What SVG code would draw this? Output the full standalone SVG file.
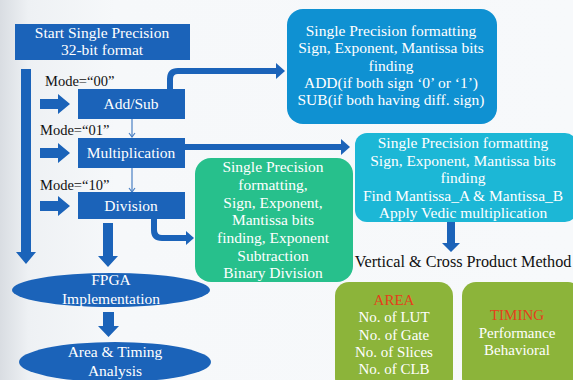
<svg xmlns="http://www.w3.org/2000/svg" width="573" height="380" viewBox="0 0 573 380">
<defs>
<linearGradient id="bg" x1="0" y1="0" x2="1" y2="0">
<stop offset="0" stop-color="#d9dde2"/>
<stop offset="0.05" stop-color="#eef1f4"/>
<stop offset="0.2" stop-color="#f6f8fa"/>
<stop offset="1" stop-color="#f7f9fb"/>
</linearGradient>
<style>
.t{font-family:"Liberation Serif","Times New Roman",serif;font-size:15.5px;text-anchor:middle;fill:#ffffff}
.s{font-size:15px}
.k{font-family:"Liberation Serif","Times New Roman",serif;font-size:14.5px;fill:#111111}
.r{fill:#e5401c}
.blk{fill:#1b63b9}
.conn{fill:none;stroke:#1b63b9;stroke-width:6}
.thin{fill:none;stroke:#4a80c4;stroke-width:1.2}
</style>
</defs>
<rect width="573" height="380" fill="url(#bg)"/>

<g id="connectors">
<path class="blk" d="M21,69 H31 V252 H36 L26,264 L16,252 H21 Z"/>
<path class="blk" d="M40,99 H58 V94 L70,104 L58,114 V109 H40 Z"/>
<path class="blk" d="M40,148 H58 V143 L70,153 L58,163 V158 H40 Z"/>
<path class="blk" d="M40,201 H58 V196 L70,206 L58,216 V211 H40 Z"/>
<line class="thin" x1="132" y1="119" x2="132" y2="137"/>
<path class="thin" d="M129,133 L132,137 L135,133"/>
<line class="thin" x1="132" y1="168" x2="132" y2="192"/>
<path class="thin" d="M129,188 L132,192 L135,188"/>
<path class="conn" d="M170,89 V79 Q170,71 178,71 H277"/>
<polygon class="blk" points="276,63 285,71 276,79"/>
<line class="conn" x1="185" y1="147" x2="342" y2="147"/>
<polygon class="blk" points="341,139 350,147 341,155"/>
<path class="conn" d="M154,218 V230 Q154,238 162,238 H187"/>
<polygon class="blk" points="186,231 194,238 186,245"/>
<path class="blk" d="M103,223 H113 V256 H118 L108,267 L98,256 H103 Z"/>
<path class="blk" d="M103,312 H114 V326 H119 L108.5,337 L98,326 H103 Z"/>
<path class="blk" d="M447,222 H455 V243 H460 L451,252 L442,243 H447 Z"/>
</g>

<g id="start">
<rect x="15" y="24" width="175" height="36" fill="#1b63b9"/>
<text class="t" x="102" y="38">Start Single Precision</text>
<text class="t" x="102" y="55">32-bit format</text>
</g>

<g id="labels">
<text class="k" x="45" y="86">Mode=“00”</text>
<text class="k" x="40" y="135">Mode=“01”</text>
<text class="k" x="40" y="190">Mode=“10”</text>
</g>

<g id="addsub">
<rect x="78" y="89" width="107" height="30" fill="#1b63b9"/>
<text class="t" x="131" y="109">Add/Sub</text>
</g>

<g id="mult">
<rect x="78" y="138" width="107" height="30" fill="#1b63b9"/>
<text class="t" x="131" y="158">Multiplication</text>
</g>

<g id="div">
<rect x="78" y="192" width="107" height="27" fill="#1b63b9"/>
<text class="t" x="131" y="211">Division</text>
</g>

<g id="addsub-detail">
<rect x="287" y="9" width="210" height="115" rx="16" fill="#0f91d2"/>
<text class="t" x="391" y="36">Single Precision formatting</text>
<text class="t" x="391" y="53">Sign, Exponent, Mantissa bits</text>
<text class="t" x="391" y="71">finding</text>
<text class="t" x="391" y="88">ADD(if both sign ‘0’ or ‘1’)</text>
<text class="t" x="391" y="105">SUB(if both having diff. sign)</text>
</g>

<g id="mult-detail">
<rect x="355" y="133" width="222" height="89" rx="12" fill="#1cb7d6"/>
<text class="t" x="463" y="148">Single Precision formatting</text>
<text class="t" x="463" y="166">Sign, Exponent, Mantissa bits</text>
<text class="t" x="463" y="183">finding</text>
<text class="t" x="463" y="201">Find Mantissa_A &amp; Mantissa_B</text>
<text class="t" x="463" y="218">Apply Vedic multiplication</text>
</g>

<g id="div-detail">
<rect x="195" y="158" width="158" height="124" rx="16" fill="#27c08c"/>
<text class="t" x="273" y="172">Single Precision</text>
<text class="t" x="273" y="190">formatting,</text>
<text class="t" x="273" y="208">Sign, Exponent,</text>
<text class="t" x="273" y="225">Mantissa bits</text>
<text class="t" x="273" y="243">finding, Exponent</text>
<text class="t" x="273" y="261">Subtraction</text>
<text class="t" x="273" y="278">Binary Division</text>
</g>

<g id="method">
<text class="k" x="463" y="267" text-anchor="middle" style="font-size:16.2px">Vertical &amp; Cross Product Method</text>
</g>

<g id="fpga">
<ellipse cx="111" cy="290" rx="99" ry="17" fill="#1b63b9"/>
<text class="t" x="111" y="285">FPGA</text>
<text class="t" x="111" y="304">Implementation</text>
</g>

<g id="analysis">
<ellipse cx="115" cy="362" rx="96" ry="20" fill="#1b63b9"/>
<text class="t" x="115" y="357">Area &amp; Timing</text>
<text class="t" x="115" y="376">Analysis</text>
</g>

<g id="area">
<rect x="335" y="282" width="118" height="110" rx="14" fill="#8cb43a"/>
<text class="t s r" x="394" y="305">AREA</text>
<text class="t s" x="394" y="322">No. of LUT</text>
<text class="t s" x="394" y="340">No. of Gate</text>
<text class="t s" x="394" y="357">No. of Slices</text>
<text class="t s" x="394" y="374">No. of CLB</text>
</g>

<g id="timing">
<rect x="462" y="282" width="120" height="110" rx="14" fill="#8cb43a"/>
<text class="t s r" x="517" y="320">TIMING</text>
<text class="t s" x="517" y="338">Performance</text>
<text class="t s" x="517" y="355">Behavioral</text>
</g>
</svg>
